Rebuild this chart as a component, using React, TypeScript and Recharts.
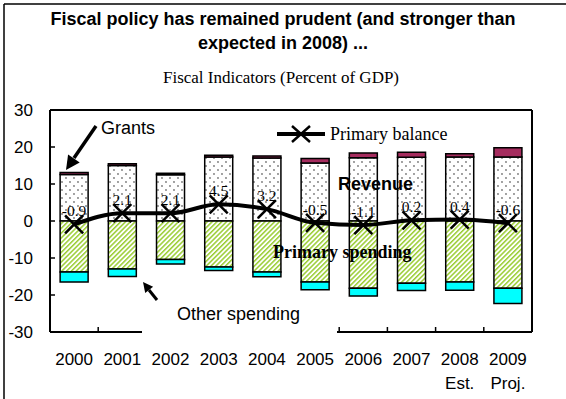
import React from 'react';
import { Bar, ComposedChart, LabelList, Line, XAxis, YAxis } from 'recharts';

const years = ['2000', '2001', '2002', '2003', '2004', '2005', '2006', '2007', '2008', '2009'];
const yearNotes = ['', '', '', '', '', '', '', '', 'Est.', 'Proj.'];
const revenue = [12.6, 15.0, 12.5, 17.3, 17.0, 15.7, 17.1, 17.2, 17.3, 17.3];
const grants = [0.5, 0.5, 0.4, 0.5, 0.6, 1.2, 1.3, 1.4, 0.9, 2.5];
const primarySpending = [-13.8, -13.0, -10.4, -12.4, -13.8, -16.5, -18.2, -16.8, -16.5, -18.2];
const otherSpending = [-2.7, -2.0, -1.2, -1.0, -1.3, -2.1, -2.1, -2.0, -2.2, -4.1];
const primaryBalance = [-0.9, 2.1, 2.1, 4.5, 3.2, -0.5, -1.1, 0.2, 0.4, -0.6];
const yTicks = [-30, -20, -10, 0, 10, 20, 30];

const data = years.map((year, i) => ({
  year,
  note: yearNotes[i],
  revenue: revenue[i],
  grants: grants[i],
  primarySpending: primarySpending[i],
  otherSpending: otherSpending[i],
  balance: primaryBalance[i],
}));

const W = 566;
const H = 399;
const PLOT_LEFT = 50;
const PLOT_RIGHT = 532;
const PLOT_TOP = 110;
const PLOT_BOTTOM = 332;

const SANS = '"Liberation Sans", Arial, sans-serif';
const SERIF = '"Liberation Serif", "Times New Roman", serif';

function YearTick(props: any) {
  const { x, y, payload, index } = props;
  const half = payload?.offset || (PLOT_RIGHT - PLOT_LEFT) / years.length / 2;
  const note = yearNotes[index];
  return (
    <g>
      {index < years.length - 1 && (
        <line x1={x + half} x2={x + half} y1={PLOT_BOTTOM} y2={PLOT_BOTTOM - 5} stroke="#000" strokeWidth={1.5} />
      )}
      <text x={x} y={y} textAnchor="middle" fontFamily={SANS} fontSize={17} fill="#000">
        <tspan x={x} dy={25}>{payload.value}</tspan>
        {note && <tspan x={x} dy={24}>{note}</tspan>}
      </text>
    </g>
  );
}

function CrossDot(props: any) {
  const { cx, cy } = props;
  if (cx == null || cy == null) return null;
  const s = 9;
  return (
    <g stroke="#000" strokeWidth={2.5}>
      <line x1={cx - s} y1={cy - s} x2={cx + s} y2={cy + s} />
      <line x1={cx - s} y1={cy + s} x2={cx + s} y2={cy - s} />
    </g>
  );
}

export default function App() {
  return (
    <div style={{ position: 'absolute', left: 0, top: 0, width: W, height: H, background: '#fff' }}>
      <ComposedChart
        width={W}
        height={H}
        data={data}
        stackOffset="sign"
        barCategoryGap="21%"
        margin={{ top: PLOT_TOP, right: W - PLOT_RIGHT, bottom: H - PLOT_BOTTOM - 50, left: PLOT_LEFT - 40 }}
      >
        <defs>
          <pattern id="dots" width="8" height="8" patternUnits="userSpaceOnUse">
            <rect width="8" height="8" fill="#fff" />
            <circle cx="2" cy="2" r="0.9" fill="#777" />
            <circle cx="6" cy="6" r="0.9" fill="#777" />
          </pattern>
          <pattern id="hatch" width="3.4" height="3.4" patternUnits="userSpaceOnUse" patternTransform="rotate(45)">
            <rect width="3.4" height="3.4" fill="#fff" />
            <rect width="1.5" height="3.4" fill="#9ACD32" />
          </pattern>
        </defs>
        <XAxis
          dataKey="year"
          height={50}
          tickLine={false}
          axisLine={{ stroke: '#000', strokeWidth: 2 }}
          tick={<YearTick />}
          interval={0}
        />
        <YAxis
          width={40}
          domain={[-30, 30]}
          ticks={yTicks}
          tickSize={-5}
          tickMargin={22}
          tickLine={{ stroke: '#000', strokeWidth: 1.5 }}
          axisLine={{ stroke: '#000', strokeWidth: 2 }}
          tick={{ fill: '#000', fontSize: 17, fontFamily: SANS }}
          allowDataOverflow
        />
        <Bar dataKey="revenue" stackId="s" fill="url(#dots)" stroke="#000" strokeWidth={1.5} isAnimationActive={false} />
        <Bar dataKey="grants" stackId="s" fill="#A52C5E" stroke="#000" strokeWidth={1.5} isAnimationActive={false} />
        <Bar dataKey="primarySpending" stackId="s" fill="url(#hatch)" stroke="#000" strokeWidth={1.5} isAnimationActive={false} />
        <Bar dataKey="otherSpending" stackId="s" fill="#00FFFF" stroke="#000" strokeWidth={1.5} isAnimationActive={false} />
        <Line
          type="monotone"
          dataKey="balance"
          stroke="#000"
          strokeWidth={4}
          dot={<CrossDot />}
          activeDot={false}
          isAnimationActive={false}
        >
          <LabelList
            dataKey="balance"
            position="top"
            offset={8}
            style={{ fill: '#000', fontSize: 15.5, fontFamily: SERIF }}
          />
        </Line>
      </ComposedChart>
      <svg
        width={W}
        height={H}
        style={{ position: 'absolute', left: 0, top: 0, pointerEvents: 'none' }}
      >
        {/* outer frame */}
        <line x1={4} y1={4} x2={W} y2={4} stroke="#000" strokeWidth={1.5} />
        <line x1={4} y1={4} x2={4} y2={H} stroke="#000" strokeWidth={1.5} />
        {/* plot frame top/right */}
        <line x1={PLOT_LEFT} y1={PLOT_TOP} x2={PLOT_RIGHT} y2={PLOT_TOP} stroke="#000" strokeWidth={2} />
        <line x1={PLOT_RIGHT} y1={PLOT_TOP} x2={PLOT_RIGHT} y2={PLOT_BOTTOM} stroke="#000" strokeWidth={2} />

        <text x={283} y={24.5} textAnchor="middle" fontFamily={SANS} fontWeight="bold" fontSize={18}>
          Fiscal policy has remained prudent (and stronger than
        </text>
        <text x={283} y={48.5} textAnchor="middle" fontFamily={SANS} fontWeight="bold" fontSize={18}>
          expected in 2008) ...
        </text>
        <text x={281} y={83} textAnchor="middle" fontFamily={SERIF} fontSize={17}>
          Fiscal Indicators (Percent of GDP)
        </text>

        {/* legend */}
        <line x1={277} y1={134} x2={325} y2={134} stroke="#000" strokeWidth={4} />
        <line x1={292} y1={126} x2={310} y2={142} stroke="#000" strokeWidth={2.5} />
        <line x1={292} y1={142} x2={310} y2={126} stroke="#000" strokeWidth={2.5} />
        <text x={330} y={140} fontFamily={SERIF} fontSize={18}>Primary balance</text>

        {/* annotations */}
        <text x={101} y={134} fontFamily={SANS} fontSize={18}>Grants</text>
        <line x1={96} y1={126} x2={74} y2={158} stroke="#000" strokeWidth={3.5} />
        <polygon points="66,170 79.7,162.4 68.1,154.4" fill="#000" />

        <text x={338} y={189.5} fontFamily={SANS} fontWeight="bold" fontSize={18}>Revenue</text>
        <text x={273} y={258} fontFamily={SERIF} fontWeight="bold" fontSize={18}>Primary spending</text>

        <rect x={142} y={302} width={195} height={34} fill="#fff" />
        <text x={177} y={319.5} fontFamily={SANS} fontSize={18}>Other spending</text>
        <line x1={157} y1={300} x2={149} y2={290} stroke="#000" strokeWidth={3} />
        <polygon points="143,282 153.1,286.8 145.2,293" fill="#000" />
      </svg>
    </div>
  );
}
